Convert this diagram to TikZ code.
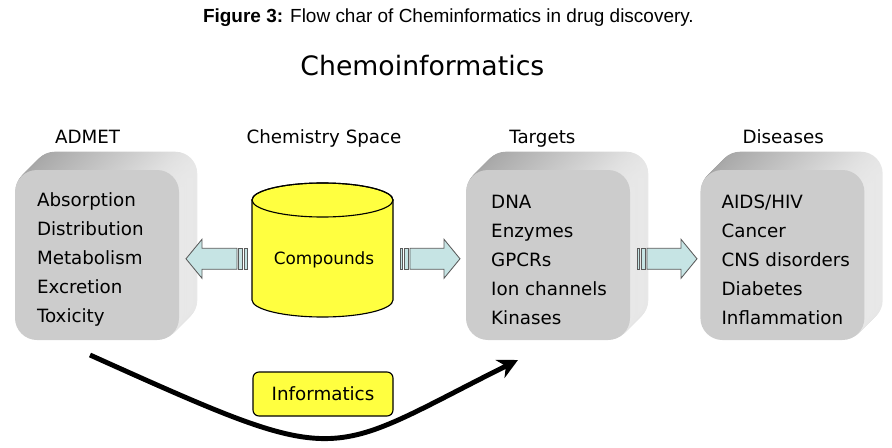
\documentclass[tikz,border=0pt]{standalone}
\usepackage{fontspec}
\setmainfont{DejaVu Sans}
\newfontfamily\capfont{Liberation Sans}
\usetikzlibrary{arrows.meta,positioning,shapes.geometric,backgrounds}
\definecolor{cmpyellow}{RGB}{255,255,64}
\definecolor{arrowfill}{RGB}{198,228,228}
\definecolor{arrowline}{RGB}{90,90,90}

\begin{document}
\begin{tikzpicture}[>=Stealth,
  facebox/.style={rounded corners=0.55cm,minimum width=4.1cm,minimum height=4.25cm,fill=black!20,inner sep=0pt},
  itemlist/.style={anchor=west,align=left,font=\fontsize{13}{20.6}\selectfont,inner sep=0pt},
  headlabel/.style={anchor=base,font=\fontsize{13}{15}\selectfont},
  blockarrow/.style={fill=arrowfill,draw=arrowline,line width=0.6pt}]
\useasboundingbox (0,0) rectangle (22.3,-11.2);

% caption and title
\node[anchor=base,font=\capfont\fontsize{13.5}{16}\selectfont] (caption) at (11.21,-0.575) {\textbf{Figure 3:} Flow char of Cheminformatics in drug discovery.};
\node[anchor=base,font=\fontsize{19}{22}\selectfont] (title) at (10.56,-1.875) {Chemoinformatics};

% column headings
\node[headlabel] (admethead) at (2.19,-3.575) {ADMET};
\node[headlabel] (spacehead) at (8.1,-3.575) {Chemistry Space};
\node[headlabel] (targethead) at (13.56,-3.575) {Targets};
\node[headlabel] (diseasehead) at (19.58,-3.575) {Diseases};

% front faces
\node[facebox] (admet) at (2.425,-6.375) {};
\node[facebox] (targets) at (13.7,-6.375) {};
\node[facebox] (diseases) at (19.56,-6.375) {};

% extruded backs
\begin{scope}[on background layer]
\foreach \b in {admet,targets,diseases}
  \foreach \i in {20,...,1}
    \shade[rounded corners=0.55cm,left color=black!36,right color=black!9]
      ([shift={(\i*0.0225,\i*0.0225)}]\b.south west) rectangle ([shift={(\i*0.0225,\i*0.0225)}]\b.north east);
\end{scope}

\node[itemlist] (admetlist) at ([xshift=0.55cm,yshift=-0.12cm]admet.west) {Absorption\\Distribution\\Metabolism\\Excretion\\Toxicity};
\node[itemlist] (targetlist) at ([xshift=0.63cm,yshift=-0.12cm]targets.west) {DNA\\Enzymes\\GPCRs\\Ion channels\\Kinases};
\node[itemlist] (diseaselist) at ([xshift=0.53cm,yshift=-0.12cm]diseases.west) {AIDS/HIV\\Cancer\\CNS disorders\\Diabetes\\Inflammation};

% compound store
\draw[fill=cmpyellow,line width=0.8pt] (6.3,-5.0) -- (6.3,-7.5) arc[start angle=180,end angle=360,x radius=1.7625,y radius=0.425]
  -- (9.825,-5.0) arc[start angle=0,end angle=180,x radius=1.7625,y radius=0.425] -- cycle;
\draw[line width=0.8pt] (8.0625,-5.0) ellipse[x radius=1.7625,y radius=0.425];
\node[font=\fontsize{12}{14}\selectfont] (compounds) at (8.1,-6.5) {Compounds};

% block arrows
\foreach \t/\s/\d in {4.65/5.925/-1,11.5/10.25/1,17.425/16.175/1} {
  \pgfmathsetmacro\hb{\t-\d*0.4}
  \pgfmathsetmacro\pa{\s-\d*0.04}
  \pgfmathsetmacro\pb{\s-\d*0.14}
  \pgfmathsetmacro\pc{\s-\d*0.18}
  \pgfmathsetmacro\pd{\s-\d*0.25}
  \draw[blockarrow] (\s,-6.2075) -- (\hb,-6.2075) -- (\hb,-5.9825) -- (\t,-6.47) -- (\hb,-6.9575) -- (\hb,-6.7325) -- (\s,-6.7325) -- cycle;
  \draw[blockarrow] (\pa,-6.2075) rectangle (\pb,-6.7325);
  \draw[blockarrow] (\pc,-6.2075) rectangle (\pd,-6.7325);
}

% informatics
\node[draw,fill=cmpyellow,rounded corners=0.15cm,minimum width=3.5cm,minimum height=1.1cm,line width=0.8pt,font=\fontsize{13}{15}\selectfont] (informatics) at (8.075,-9.85) {Informatics};
\coordinate (curvestart) at (2.25,-8.875);
\coordinate (curveend) at (12.95,-9.0);
\draw[line width=3.5pt,-{Stealth[length=0.5cm,width=0.5cm]}] (curvestart) .. controls (8.7,-11.775) and (8.025,-11.46) .. (curveend);
\end{tikzpicture}
\end{document}
